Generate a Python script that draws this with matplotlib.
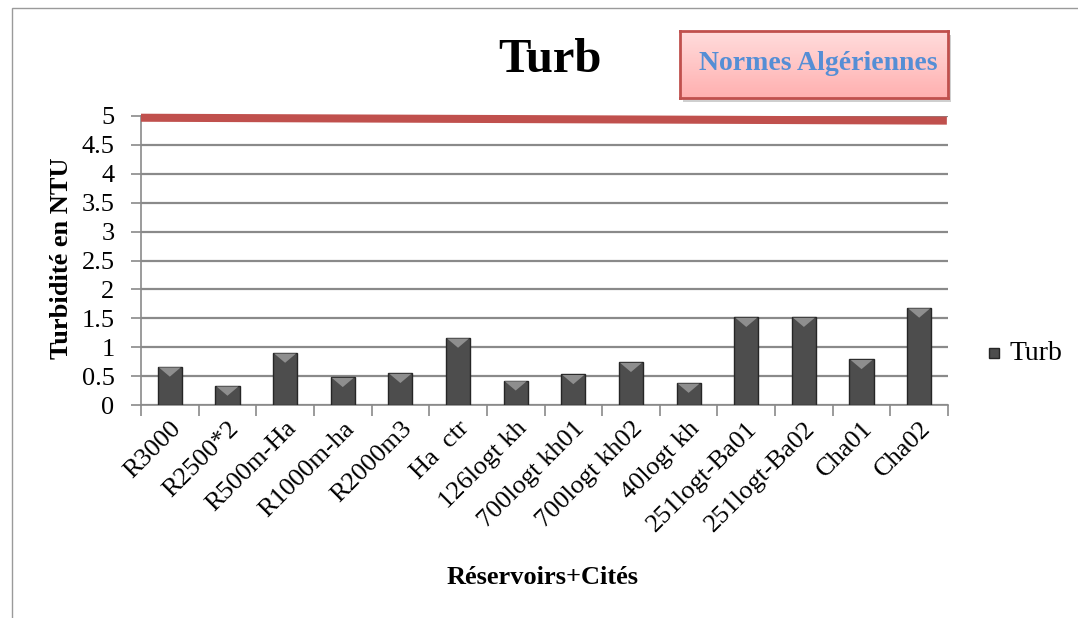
import matplotlib
matplotlib.use("Agg")
import matplotlib.pyplot as plt
import numpy as np
from matplotlib.patches import Rectangle
from matplotlib.colors import LinearSegmentedColormap

categories = ["R3000", "R2500*2", "R500m-Ha", "R1000m-ha", "R2000m3", "Ha  ctr",
              "126logt kh", "700logt kh01", "700logt kh02", "40logt kh",
              "251logt-Ba01", "251logt-Ba02", "Cha01", "Cha02"]
turb = [0.66, 0.33, 0.90, 0.48, 0.55, 1.16, 0.42, 0.53, 0.74, 0.38, 1.52, 1.52, 0.79, 1.68]
norme = 5
yticks = [0, 0.5, 1, 1.5, 2, 2.5, 3, 3.5, 4, 4.5, 5]
ytick_labels = ["0", "0.5", "1", "1.5", "2", "2.5", "3", "3.5", "4", "4.5", "5"]

plt.rcParams['font.family'] = ['Liberation Serif', 'DejaVu Serif']

fig = plt.figure(figsize=(10.78, 6.18), dpi=100)
W, H = 1078, 618
ax = fig.add_axes([141 / W, 1 - 405 / H, (948 - 141) / W, (405 - 116) / H])

x = np.arange(len(categories))
bw = 0.42
ax.bar(x, turb, width=bw, color="#4d4d4d", edgecolor="#262626", linewidth=1.0, zorder=3)
# light bevel triangle at top of each bar
depth = 0.17
for xi, v in zip(x, turb):
    ax.fill([xi - bw / 2 + 0.02, xi + bw / 2 - 0.02, xi], [v - 0.01, v - 0.01, v - depth],
            color="#8e8e8e", zorder=4, linewidth=0)

ax.set_xlim(-0.5, len(categories) - 0.5)
ax.set_ylim(0, 5)
ax.set_yticks(yticks)
ax.set_yticklabels(ytick_labels, fontsize=19)
ax.yaxis.grid(True, color="#8a8a8a", linewidth=1.6, zorder=0)
ax.set_axisbelow(True)
ax.set_xticks(x)
ax.set_xticklabels(categories, rotation=45, ha="right", va="top", rotation_mode="anchor", fontsize=19)
ax.tick_params(axis="x", length=0, pad=9)
ax.set_xticks(np.arange(-0.5, len(categories), 1), minor=True)
ax.tick_params(axis="x", which="minor", length=8, color="#8a8a8a", width=1.2)
ax.tick_params(axis="y", length=7, color="#8a8a8a", width=1.2, pad=12)
for s in ["top", "right"]:
    ax.spines[s].set_visible(False)
ax.spines["left"].set_color("#8a8a8a")
ax.spines["bottom"].set_color("#8a8a8a")
ax.spines["left"].set_linewidth(1.2)
ax.spines["bottom"].set_linewidth(1.2)

# Norme line
ax.plot([-0.5, len(categories) - 0.52], [norme - 0.03, norme - 0.08], color="#C0504D",
        linewidth=5.8, solid_capstyle="butt", zorder=5, clip_on=False)

fig.text(62 / W, 1 - 258 / H, "Turbidité en NTU", rotation=90, ha="center", va="center",
         fontsize=19, fontweight="bold")
fig.text(543 / W, 1 - 577 / H, "Réservoirs+Cités", ha="center", va="center",
         fontsize=19, fontweight="bold")

fig.text(550 / W, 1 - 60 / H, "Turb", ha="center", va="center", fontsize=35, fontweight="bold")

# Normes Algériennes box with gradient
bx0, by0, bx1, by1 = 680, 31, 948, 98
shadow = Rectangle(((bx0 + 3) / W, 1 - (by1 + 4) / H), (bx1 - bx0) / W, (by1 - by0) / H,
                   transform=fig.transFigure, facecolor="#cfcfcf", edgecolor="none", zorder=1)
fig.patches.append(shadow)
bax = fig.add_axes([bx0 / W, 1 - by1 / H, (bx1 - bx0) / W, (by1 - by0) / H], zorder=2)
grad = np.linspace(0, 1, 64).reshape(-1, 1)
cmap = LinearSegmentedColormap.from_list("pk", ["#FFDCDC", "#FFB0B0"])
bax.imshow(grad, aspect="auto", cmap=cmap, extent=[0, 1, 0, 1], origin="upper")
bax.set_xticks([]); bax.set_yticks([])
for s in bax.spines.values():
    s.set_color("#C0504D"); s.set_linewidth(2)
bax.text(0.515, 0.52, "Normes Algériennes", ha="center", va="center", transform=bax.transAxes,
         fontsize=20, fontweight="bold", color="#558ED5")

# Legend
fig.patches.append(Rectangle((989 / W, 1 - 358 / H), 10 / W, 10 / H, transform=fig.transFigure,
                             facecolor="#4d4d4d", edgecolor="#262626"))
fig.text(1010 / W, 1 - 353 / H, "Turb", ha="left", va="center", fontsize=20)

# Chart border
fig.patches.append(Rectangle((12 / W, -0.01), (1078 - 12) / W + 0.01, 1 - 8 / H + 0.01,
                             transform=fig.transFigure, facecolor="none", edgecolor="#9a9a9a",
                             linewidth=1))

fig.savefig("out.png", dpi=100)
